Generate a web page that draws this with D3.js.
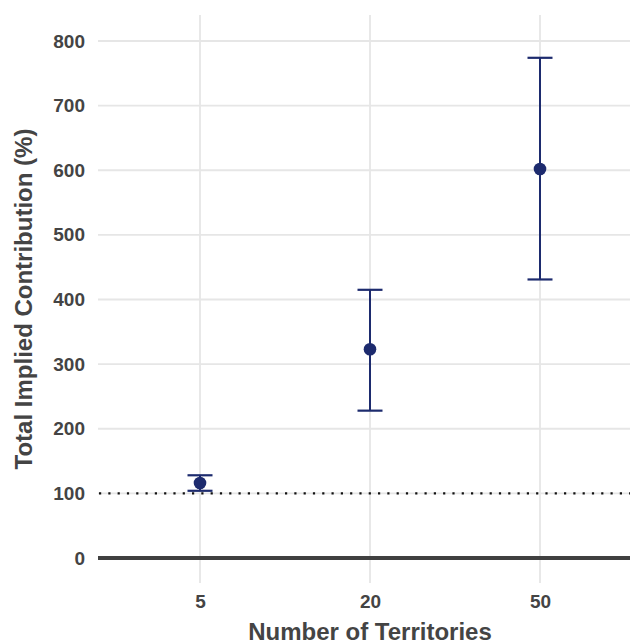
<!DOCTYPE html>
<html>
<head>
<meta charset="utf-8">
<script src="https://cdn.jsdelivr.net/npm/d3@7"></script>
<style>
  html, body { margin: 0; padding: 0; background: #fff; }
  svg { display: block; }
</style>
</head>
<body>
<svg id="chart" width="630" height="644"></svg>
<script>
// ---- data ----
const categories = ["5", "20", "50"];
const means = [116, 323, 602];
const lower = [104, 228, 431];
const upper = [128, 415, 774];
const yTicks = [0, 100, 200, 300, 400, 500, 600, 700, 800];
const refLine = 100;
const zeroLine = 0;
const xTitle = "Number of Territories";
const yTitle = "Total Implied Contribution (%)";

// ---- layout ----
const W = 630, H = 644;
const panel = { left: 98, right: 642, top: 15, bottom: 583 };
const navy = "#1d2b6e";
const textCol = "#444444";

const svg = d3.select("#chart");

const x = d3.scalePoint()
  .domain(categories)
  .range([panel.left, panel.right])
  .padding(0.6);

const y = d3.scaleLinear()
  .domain([0, 800])
  .range([558, 41]);

// gridlines
const grid = svg.append("g");
grid.selectAll("line.h").data(yTicks).join("line")
  .attr("x1", panel.left).attr("x2", panel.right)
  .attr("y1", d => y(d)).attr("y2", d => y(d))
  .attr("stroke", "#e6e6e6").attr("stroke-width", 1.8);
grid.selectAll("line.v").data(categories).join("line")
  .attr("x1", d => x(d)).attr("x2", d => x(d))
  .attr("y1", panel.top).attr("y2", panel.bottom)
  .attr("stroke", "#e6e6e6").attr("stroke-width", 1.8);

// reference lines
svg.append("line")
  .attr("x1", panel.left).attr("x2", panel.right)
  .attr("y1", y(zeroLine)).attr("y2", y(zeroLine))
  .attr("stroke", "#404040").attr("stroke-width", 4);
svg.append("line")
  .attr("x1", panel.left + 1).attr("x2", panel.right)
  .attr("y1", y(refLine)).attr("y2", y(refLine))
  .attr("stroke", "#111").attr("stroke-width", 2.2)
  .attr("stroke-dasharray", "2.2,7.1");

// error bars
const rows = categories.map((c, i) => ({ c, m: means[i], lo: lower[i], hi: upper[i] }));
const capW = 25;
const eb = svg.append("g");
eb.selectAll("line.stem").data(rows).join("line")
  .attr("x1", d => x(d.c)).attr("x2", d => x(d.c))
  .attr("y1", d => y(d.lo)).attr("y2", d => y(d.hi))
  .attr("stroke", navy).attr("stroke-width", 2);
eb.selectAll("line.capt").data(rows).join("line")
  .attr("x1", d => x(d.c) - capW / 2).attr("x2", d => x(d.c) + capW / 2)
  .attr("y1", d => y(d.hi)).attr("y2", d => y(d.hi))
  .attr("stroke", navy).attr("stroke-width", 2.2);
eb.selectAll("line.capb").data(rows).join("line")
  .attr("x1", d => x(d.c) - capW / 2).attr("x2", d => x(d.c) + capW / 2)
  .attr("y1", d => y(d.lo)).attr("y2", d => y(d.lo))
  .attr("stroke", navy).attr("stroke-width", 2.2);
eb.selectAll("circle").data(rows).join("circle")
  .attr("cx", d => x(d.c)).attr("cy", d => y(d.m))
  .attr("r", 6.3).attr("fill", navy);

// axes (no domain lines or ticks)
const yAxis = svg.append("g")
  .attr("transform", `translate(${panel.left},0)`)
  .call(d3.axisLeft(y).tickValues(yTicks).tickSize(0).tickPadding(13));
const xAxis = svg.append("g")
  .attr("transform", `translate(0,${panel.bottom})`)
  .call(d3.axisBottom(x).tickSize(0).tickPadding(12));
[yAxis, xAxis].forEach(g => {
  g.select(".domain").remove();
  g.selectAll("text")
    .attr("fill", textCol)
    .style("font-family", "'Liberation Sans', Arial, sans-serif")
    .style("font-weight", "bold")
    .style("font-size", "19px");
});

// titles
svg.append("text")
  .attr("x", (panel.left + panel.right) / 2)
  .attr("y", 640)
  .attr("text-anchor", "middle")
  .attr("fill", textCol)
  .style("font-family", "'Liberation Sans', Arial, sans-serif")
  .style("font-weight", "bold")
  .style("font-size", "24px")
  .text(xTitle);
svg.append("text")
  .attr("transform", `translate(32,${(panel.top + panel.bottom) / 2}) rotate(-90)`)
  .attr("text-anchor", "middle")
  .attr("fill", textCol)
  .style("font-family", "'Liberation Sans', Arial, sans-serif")
  .style("font-weight", "bold")
  .style("font-size", "24px")
  .text(yTitle);
</script>
</body>
</html>
